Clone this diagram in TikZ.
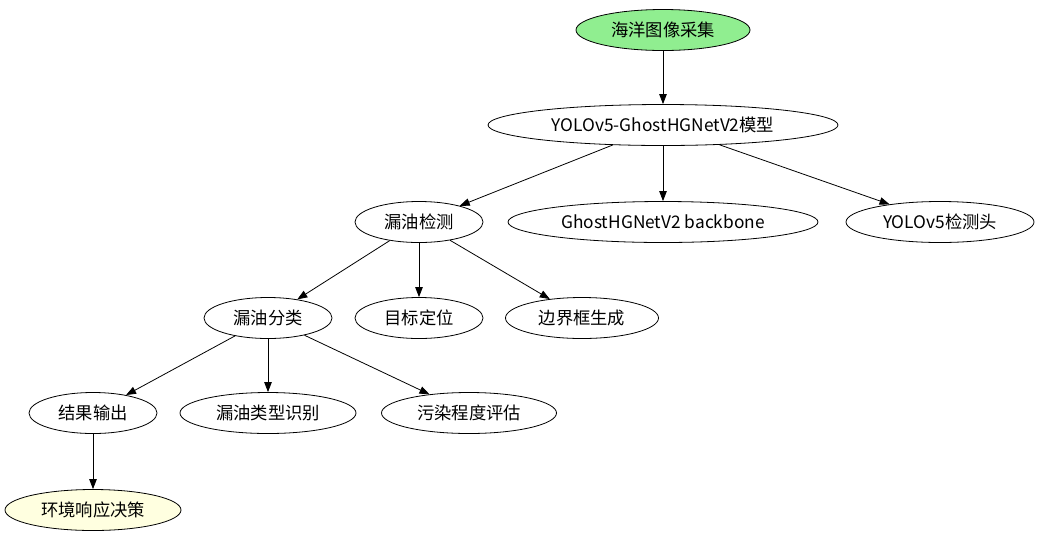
\documentclass[tikz,border=0pt]{standalone}
\usepackage{fontspec}
\newfontfamily\cjk{Noto Sans CJK SC}
\usetikzlibrary{shapes.geometric, arrows.meta}
\definecolor{lgreen}{HTML}{90EE90}
\definecolor{lyellow}{HTML}{FFFFE0}

\begin{document}
\begin{tikzpicture}[
			x=1pt, y=-1pt,
			font=\cjk\fontsize{17.3}{20}\selectfont,
			box/.style={ellipse, draw=black, line width=0.8pt, minimum height=41pt, inner sep=0pt, fill=white},
			ar/.style={-{Triangle[length=10pt, width=7.5pt]}, line width=0.8pt}
			]
			\useasboundingbox (0,0) rectangle (1053,539);
			\node[box, fill=lgreen, minimum width=174pt] (img) at (663,30) {海洋图像采集};
			\node[box, minimum width=350pt] (yolo) at (663,125) {YOLOv5-GhostHGNetV2模型};
			\node[box, minimum width=128pt] (det) at (419,222) {漏油检测};
			\node[box, minimum width=310pt] (ghost) at (663,222) {GhostHGNetV2 backbone};
			\node[box, minimum width=188pt] (head) at (940,222) {YOLOv5检测头};
			\node[box, minimum width=128pt] (cls) at (268,318) {漏油分类};
			\node[box, minimum width=128pt] (loc) at (419,318) {目标定位};
			\node[box, minimum width=153pt] (bbox) at (582,318) {边界框生成};
			\node[box, minimum width=128pt] (out) at (93,413) {结果输出};
			\node[box, minimum width=176pt] (type) at (268,413) {漏油类型识别};
			\node[box, minimum width=175pt] (eval) at (469,413) {污染程度评估};
			\node[box, fill=lyellow, minimum width=176pt] (dec) at (93,510) {环境响应决策};
			\foreach \a/\b in {img/yolo, yolo/det, yolo/ghost, yolo/head, det/cls, det/loc, det/bbox, cls/out, cls/type, cls/eval, out/dec} {
				\draw[ar] (\a) -- (\b);
			}
		\end{tikzpicture}
\end{document}
